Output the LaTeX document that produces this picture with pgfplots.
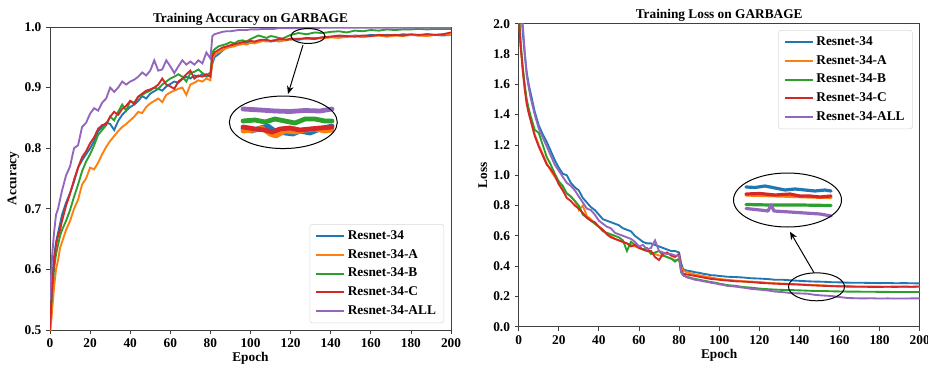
\documentclass[border=0pt]{standalone}
\usepackage{fontspec}
\setmainfont{Liberation Serif}
\usepackage{pgfplots}
\pgfplotsset{compat=1.18}
\usepackage{pgfplotstable}
\usetikzlibrary{arrows.meta}

\definecolor{cB}{HTML}{1F77B4}
\definecolor{cO}{HTML}{FF7F0E}
\definecolor{cG}{HTML}{2CA02C}
\definecolor{cR}{HTML}{D62728}
\definecolor{cP}{HTML}{9467BD}

\pgfplotstableread{
ep b o g r p
0 0.52 0.49 0.51 0.50 0.55
1 0.58 0.53 0.56 0.57 0.62
2 0.62 0.57 0.60 0.61 0.66
3 0.645 0.60 0.625 0.64 0.69
4 0.66 0.615 0.64 0.655 0.70
5 0.675 0.635 0.655 0.665 0.715
6 0.69 0.645 0.665 0.68 0.73
8 0.71 0.665 0.68 0.705 0.755
10 0.726 0.68 0.698 0.725 0.77
12 0.745 0.70 0.72 0.748 0.80
14 0.768 0.715 0.74 0.768 0.805
16 0.78 0.74 0.762 0.785 0.835
18 0.79 0.75 0.778 0.795 0.842
20 0.80 0.768 0.79 0.808 0.857
22 0.812 0.765 0.805 0.818 0.866
24 0.828 0.776 0.822 0.832 0.862
26 0.835 0.79 0.83 0.838 0.875
28 0.842 0.802 0.838 0.84 0.882
30 0.84 0.812 0.852 0.852 0.90
32 0.83 0.82 0.846 0.86 0.893
34 0.845 0.828 0.86 0.855 0.90
36 0.855 0.835 0.872 0.865 0.91
38 0.862 0.84 0.862 0.87 0.905
40 0.868 0.846 0.878 0.878 0.91
42 0.872 0.852 0.875 0.873 0.913
44 0.878 0.86 0.885 0.885 0.918
46 0.886 0.858 0.888 0.89 0.925
48 0.882 0.868 0.892 0.895 0.92
50 0.89 0.874 0.895 0.897 0.928
52 0.894 0.878 0.90 0.90 0.945
54 0.898 0.882 0.898 0.905 0.928
56 0.895 0.876 0.905 0.915 0.93
58 0.902 0.888 0.91 0.905 0.945
60 0.906 0.892 0.915 0.902 0.935
62 0.91 0.895 0.918 0.898 0.924
64 0.908 0.898 0.922 0.91 0.935
66 0.914 0.90 0.918 0.915 0.945
68 0.918 0.888 0.91 0.922 0.938
70 0.915 0.905 0.924 0.928 0.943
72 0.92 0.908 0.926 0.915 0.938
74 0.918 0.912 0.93 0.92 0.945
76 0.922 0.91 0.924 0.918 0.94
78 0.918 0.915 0.92 0.922 0.958
80 0.92 0.912 0.925 0.918 0.948
81 0.94 0.945 0.958 0.952 0.985
82 0.95 0.955 0.963 0.958 0.988
84 0.955 0.958 0.968 0.962 0.99
86 0.961 0.962 0.970 0.966 0.992
88 0.966 0.965 0.972 0.968 0.993
90 0.968 0.967 0.975 0.970 0.993
92 0.970 0.968 0.973 0.972 0.994
94 0.971 0.971 0.977 0.973 0.995
96 0.972 0.972 0.978 0.975 0.995
98 0.974 0.971 0.976 0.976 0.995
100 0.975 0.974 0.980 0.977 0.996
102 0.974 0.973 0.983 0.976 0.996
104 0.976 0.975 0.986 0.978 0.996
106 0.977 0.977 0.984 0.979 0.997
108 0.978 0.976 0.982 0.979 0.997
110 0.976 0.977 0.985 0.977 0.997
112 0.977 0.978 0.984 0.978 0.997
114 0.979 0.976 0.982 0.980 0.998
116 0.979 0.977 0.981 0.980 0.998
118 0.978 0.979 0.984 0.979 0.998
120 0.980 0.979 0.987 0.981 0.998
124 0.979 0.981 0.990 0.980 0.998
128 0.981 0.980 0.988 0.982 0.998
132 0.980 0.982 0.991 0.981 0.998
136 0.983 0.981 0.990 0.983 0.999
140 0.984 0.983 0.992 0.984 0.999
144 0.985 0.982 0.993 0.986 0.999
148 0.984 0.984 0.991 0.985 0.999
152 0.986 0.985 0.994 0.984 0.999
156 0.985 0.983 0.993 0.986 0.999
160 0.987 0.985 0.995 0.985 0.999
164 0.986 0.986 0.994 0.987 0.999
168 0.987 0.984 0.996 0.986 0.999
172 0.986 0.986 0.995 0.987 0.999
176 0.988 0.985 0.996 0.986 0.999
180 0.987 0.987 0.996 0.988 0.999
184 0.986 0.986 0.997 0.987 0.999
188 0.988 0.985 0.996 0.988 0.999
192 0.987 0.987 0.997 0.987 0.999
196 0.986 0.988 0.997 0.988 0.999
200 0.987 0.987 0.997 0.991 0.999
}\acc

\pgfplotstableread{
ep b o g r p
0 2.3 2.1 2.1 2.05 2.4
1 2.15 1.85 1.87 1.85 2.2
2 1.95 1.70 1.72 1.70 2.0
3 1.80 1.58 1.60 1.57 1.82
4 1.68 1.49 1.50 1.47 1.66
5 1.60 1.42 1.44 1.41 1.58
6 1.54 1.37 1.39 1.36 1.51
8 1.42 1.27 1.30 1.26 1.40
10 1.33 1.20 1.28 1.19 1.31
12 1.27 1.14 1.20 1.13 1.25
14 1.22 1.08 1.12 1.07 1.19
16 1.16 1.03 1.07 1.04 1.13
18 1.10 0.99 1.01 1.00 1.07
20 1.05 0.95 0.96 0.94 1.03
22 1.01 0.92 0.93 0.90 0.99
24 1.00 0.88 0.88 0.85 0.95
26 0.95 0.86 0.86 0.83 0.93
28 0.92 0.83 0.83 0.80 0.90
30 0.90 0.77 0.80 0.78 0.86
32 0.85 0.80 0.74 0.75 0.82
34 0.82 0.73 0.72 0.72 0.78
36 0.79 0.71 0.70 0.70 0.77
38 0.77 0.68 0.68 0.69 0.74
40 0.74 0.66 0.66 0.66 0.70
42 0.71 0.64 0.63 0.64 0.68
44 0.70 0.61 0.62 0.61 0.66
46 0.69 0.60 0.61 0.59 0.65
48 0.68 0.58 0.60 0.58 0.62
50 0.67 0.57 0.59 0.57 0.61
52 0.65 0.56 0.57 0.56 0.60
54 0.64 0.55 0.50 0.55 0.59
56 0.63 0.54 0.56 0.53 0.58
58 0.60 0.53 0.54 0.54 0.56
60 0.58 0.52 0.53 0.52 0.53
62 0.56 0.51 0.51 0.51 0.54
64 0.55 0.50 0.52 0.50 0.51
66 0.55 0.49 0.48 0.50 0.52
68 0.54 0.48 0.49 0.46 0.57
70 0.53 0.47 0.50 0.44 0.50
72 0.52 0.47 0.47 0.48 0.49
74 0.51 0.46 0.46 0.49 0.48
76 0.50 0.45 0.45 0.47 0.48
78 0.50 0.44 0.43 0.46 0.47
80 0.49 0.44 0.45 0.48 0.47
81 0.42 0.40 0.36 0.38 0.37
82 0.38 0.37 0.34 0.35 0.34
84 0.37 0.36 0.33 0.345 0.325
86 0.366 0.352 0.322 0.340 0.318
88 0.36 0.345 0.315 0.335 0.31
90 0.356 0.340 0.311 0.330 0.306
92 0.35 0.335 0.305 0.325 0.30
94 0.346 0.330 0.300 0.320 0.296
96 0.34 0.325 0.295 0.315 0.29
98 0.339 0.320 0.291 0.313 0.286
100 0.335 0.315 0.285 0.31 0.28
102 0.333 0.313 0.280 0.307 0.276
104 0.33 0.31 0.275 0.305 0.27
108 0.328 0.305 0.27 0.30 0.265
112 0.325 0.30 0.262 0.298 0.258
116 0.32 0.298 0.258 0.295 0.25
120 0.318 0.295 0.252 0.29 0.245
124 0.315 0.29 0.248 0.287 0.24
128 0.31 0.287 0.245 0.284 0.232
132 0.31 0.285 0.243 0.282 0.228
136 0.306 0.282 0.242 0.28 0.222
140 0.303 0.28 0.24 0.278 0.22
144 0.30 0.277 0.238 0.275 0.218
148 0.298 0.275 0.236 0.272 0.21
152 0.297 0.273 0.236 0.27 0.206
156 0.294 0.27 0.234 0.268 0.203
160 0.293 0.268 0.233 0.266 0.196
164 0.291 0.268 0.232 0.265 0.19
168 0.29 0.266 0.232 0.264 0.188
172 0.29 0.265 0.231 0.264 0.187
176 0.289 0.266 0.231 0.263 0.188
180 0.288 0.264 0.230 0.263 0.186
184 0.289 0.264 0.230 0.264 0.187
188 0.287 0.265 0.229 0.263 0.186
192 0.288 0.264 0.229 0.265 0.186
196 0.287 0.263 0.229 0.264 0.187
200 0.286 0.264 0.229 0.266 0.187
}\loss

\pgfplotsset{
  panel/.style={
    scale only axis, width=300.75pt, height=227.25pt,
    anchor=south west,
    xmin=0, xmax=200, xtick={0,20,...,200},
    axis line style={draw=black!75, line width=0.6pt},
    tick align=outside, xtick pos=left, ytick pos=left,
    major tick length=3pt,
    every tick/.style={draw=black!75, line width=0.6pt},
    /pgf/number format/assume math mode=true,
    ticklabel style={font=\bfseries},
    xticklabel style={/pgf/number format/fixed},
    yticklabel style={/pgf/number format/fixed, /pgf/number format/fixed zerofill, /pgf/number format/precision=1},
    title style={font=\bfseries, at={(0.5,1)}, anchor=south, yshift=-8pt},
    xlabel style={font=\bfseries, at={(0.5,-0.095)}, anchor=center},
    ylabel style={font=\bfseries, anchor=center},
    legend style={font=\bfseries, draw=black!15, rounded corners=2pt, row sep=1.8pt, inner xsep=4pt, inner ysep=3pt},
    legend cell align=left,
    legend image code/.code={\draw[#1, line width=1.5pt] (0pt,0pt) -- (21pt,0pt);},
    every axis plot/.append style={line width=1.4pt},
  },
  inset/.style={
    scale only axis, anchor=south west, axis lines=none, y dir=reverse,
    clip=false, every axis plot/.append style={line cap=round, line join=round},
  }
}

\begin{document}
\begin{tikzpicture}
\useasboundingbox (0,0) rectangle (696pt,276.75pt);

\begin{axis}[panel, at={(37.5pt,29.25pt)},
  ymin=0.5, ymax=1.0, ytick={0.5,0.6,...,1.0},
  title={Training Accuracy on GARBAGE}, xlabel={Epoch}, ylabel={Accuracy},
  ylabel style={at={(-0.0915,0.5)}},
  legend style={at={(0.983,0.023)}, anchor=south east}]
\addplot[cB] table[x=ep,y=b]{\acc};
\addplot[cO] table[x=ep,y=o]{\acc};
\addplot[cG] table[x=ep,y=g]{\acc};
\addplot[cR] table[x=ep,y=r]{\acc};
\addplot[cP] table[x=ep,y=p]{\acc};
\legend{Resnet-34,Resnet-34-A,Resnet-34-B,Resnet-34-C,Resnet-34-ALL}
\end{axis}

\begin{axis}[panel, at={(389pt,31.7pt)},
  ymin=0, ymax=2.0, ytick={0,0.2,...,2.0},
  title={Training Loss on GARBAGE}, xlabel={Epoch}, ylabel={Loss},
  ylabel style={at={(-0.0897,0.5)}},
  legend style={at={(0.983,0.979)}, anchor=north east}]
\addplot[cB] table[x=ep,y=b]{\loss};
\addplot[cO] table[x=ep,y=o]{\loss};
\addplot[cG] table[x=ep,y=g]{\loss};
\addplot[cR] table[x=ep,y=r]{\loss};
\addplot[cP] table[x=ep,y=p]{\loss};
\legend{Resnet-34,Resnet-34-A,Resnet-34-B,Resnet-34-C,Resnet-34-ALL}
\end{axis}

% left inset (zoomed curves)
\begin{axis}[inset, at={(182.25pt,174pt)}, width=66.75pt, height=24pt,
  xmin=243, xmax=332, ymin=105, ymax=137,
  every axis plot/.append style={line width=3.6pt}]
\addplot[cB] coordinates {(243,129)(252,131)(260,128)(268,126)(275,131)(285,133)(293,134)(300,131)(310,133)(320,129)(332,126)};
\addplot[cO] coordinates {(243,131)(255,130)(262,128)(270,134)(276,136)(285,131)(295,132)(305,130)(315,129)(325,131)(332,130)};
\addplot[cG] coordinates {(243,121)(255,120)(265,122)(275,119)(285,121)(295,123)(305,119)(315,119)(325,121)(332,121)};
\addplot[cR] coordinates {(243,127)(255,129)(265,130)(272,132)(280,129)(290,128)(300,130)(310,129)(320,128)(332,127)};
\addplot[cP] coordinates {(243,109)(260,110)(275,111)(290,111.5)(305,110.5)(320,111)(332,109)};
\end{axis}

% right inset (zoomed curves)
\begin{axis}[inset, at={(559.5pt,111.75pt)}, width=63.75pt, height=30pt,
  xmin=746, xmax=831, ymin=180, ymax=220,
  every axis plot/.append style={line width=2.4pt}]
\addplot[cB] coordinates {(746,187)(755,187.5)(765,186)(775,188)(785,190)(795,189)(805,190)(815,191)(825,190)(831,191)};
\addplot[cO] coordinates {(746,195)(780,196)(810,197)(831,197.5)};
\addplot[cG] coordinates {(746,204.5)(770,205)(800,205)(831,205.5)};
\addplot[cR] coordinates {(746,194)(760,193.5)(775,195)(790,194)(800,196)(810,196)(820,197)(831,196)};
\addplot[cP] coordinates {(746,208.5)(760,210)(768,211)(771,205)(774,211)(790,212)(805,213)(820,214)(831,216)};
\end{axis}

\begin{scope}[x=0.75pt,y=-0.75pt,shift={(0pt,276.75pt)}, line width=0.75pt]
\draw (308,36) ellipse [x radius=12.75pt, y radius=5.6pt];
\draw (283.3,122.3) ellipse [x radius=40.5pt, y radius=19.7pt];
\draw[-{Stealth[length=6pt,width=5pt]}] (303,45) -- (288,94);
\draw (816.5,286.8) ellipse [x radius=21pt, y radius=10.5pt];
\draw (787.5,200) ellipse [x radius=40.5pt, y radius=20.25pt];
\draw[-{Stealth[length=6pt,width=5pt]}] (814,272.7) -- (790,231.7);
\end{scope}
\end{tikzpicture}
\end{document}
